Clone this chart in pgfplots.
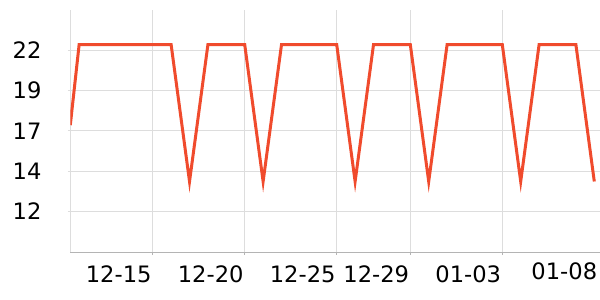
\documentclass[border=0pt]{standalone}
\usepackage{fontspec}
\setmainfont{DejaVu Sans}
\usepackage{pgfplots}
\pgfplotsset{compat=1.18}
\definecolor{lineR}{RGB}{240,75,45}
\definecolor{gridc}{RGB}{221,221,221}
\definecolor{axc}{RGB}{180,180,180}
\begin{document}
\begin{tikzpicture}
\useasboundingbox (0,0) rectangle (300pt,150pt);
\begin{axis}[
  scale only axis,
  at={(35.15pt,23.75pt)}, anchor=south west,
  width=264.85pt, height=121.25pt,
  xmin=-4.48, xmax=24.31,
  ymin=9.44, ymax=24.5,
  axis x line=bottom, axis y line=left,
  x axis line style={-, draw=axc, line width=0.5pt},
  y axis line style={-, draw=gridc, line width=0.5pt},
  xtick={0,5,10,14,19},
  xticklabels={12-15,12-20,12-25,12-29,01-03},
  extra x ticks={24.22},
  extra x tick labels={01-08},
  extra x tick style={grid=none, major tick length=0pt},
  ytick={12,14.5,17,19.5,22},
  yticklabels={12,14,17,19,22},
  grid=major,
  major grid style={draw=gridc, line width=0.5pt},
  tick align=outside,
  major tick length=1.2pt,
  tick style={draw=axc, line width=0.5pt},
  ytick style={draw=gridc},
  /pgf/number format/assume math mode=true,
  ticklabel style={font=\fontsize{11.3}{13}\selectfont, inner sep=0pt},
  xticklabel style={anchor=north east, yshift=-5pt, xshift=-0.4pt},
  yticklabel style={anchor=east, xshift=-13pt},
  clip=true,
]
\addplot[color=lineR, line width=1.5pt, line join=miter] coordinates {
(-4.48,17.35) (-4,22.35) (-3,22.35) (-2,22.35) (-1,22.35) (0,22.35) (1,22.35)
(2,13.85) (3,22.35) (4,22.35) (5,22.35)
(6,13.85) (7,22.35) (8,22.35) (9,22.35) (10,22.35)
(11,13.85) (12,22.35) (13,22.35) (14,22.35)
(15,13.85) (16,22.35) (17,22.35) (18,22.35) (19,22.35)
(20,13.85) (21,22.35) (22,22.35) (23,22.35)
(24,13.85)
};
\end{axis}
\end{tikzpicture}
\end{document}
